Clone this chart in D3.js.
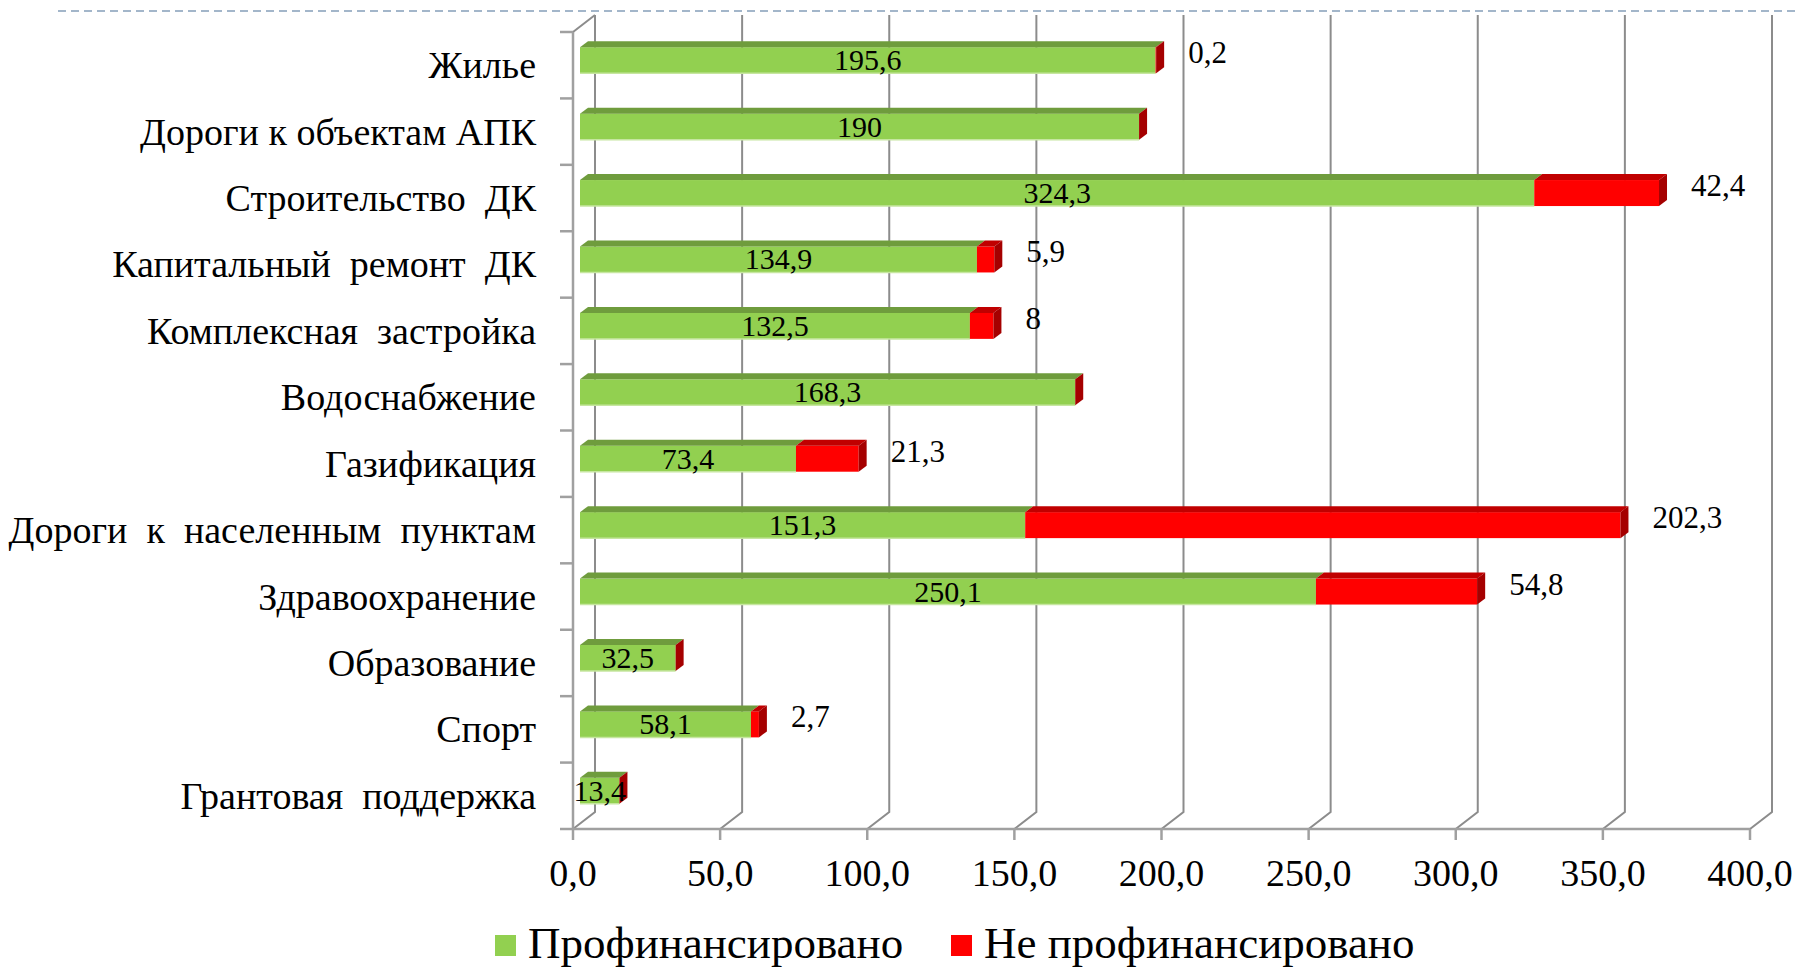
<!DOCTYPE html>
<html lang="ru">
<head>
<meta charset="UTF-8">
<title>Chart</title>
<style>
body { margin: 0; background: #fff; }
#chart { width: 1797px; height: 970px; }
text { font-family: 'Liberation Serif', 'DejaVu Serif', serif; fill: #000; }
</style>
</head>
<body>
<div id="chart"></div>
<script src="https://cdnjs.cloudflare.com/ajax/libs/d3/7.8.5/d3.min.js"></script>
<script>

var categories = [
  "Жилье",
  "Дороги к объектам АПК",
  "Строительство  ДК",
  "Капитальный  ремонт  ДК",
  "Комплексная  застройка",
  "Водоснабжение",
  "Газификация",
  "Дороги  к  населенным  пунктам",
  "Здравоохранение",
  "Образование",
  "Спорт",
  "Грантовая  поддержка"
];
var funded =   [195.6, 190, 324.3, 134.9, 132.5, 168.3, 73.4, 151.3, 250.1, 32.5, 58.1, 13.4];
var unfunded = [0.2,   0,   42.4,  5.9,   8,     0,     21.3, 202.3, 54.8,  0,    2.7,  0];
var ticks = [0, 50, 100, 150, 200, 250, 300, 350, 400];
var seriesNames = ["Профинансировано", "Не профинансировано"];

var width = 1797, height = 970;
var depthX = 22, depthY = -17;     // wall depth
var barOffX = 7, barOffY = -5;     // bars sit a bit behind the front plane
var barDX = 8, barDY = -6;         // bar thickness
var barH = 26;

var fmt = function (v) { return String(v).replace('.', ','); };
var fmtTick = function (v) { return v.toFixed(1).replace('.', ','); };

var svg = d3.select('#chart').append('svg')
  .attr('width', width)
  .attr('height', height);

var x = d3.scaleLinear().domain([0, 400]).range([573, 1750]);
var y = d3.scaleBand().domain(categories).range([32, 829]);

// dashed line across the top
svg.append('line')
  .attr('x1', 58).attr('x2', width)
  .attr('y1', 11).attr('y2', 11)
  .attr('stroke', '#a3b6ca').attr('stroke-width', 2)
  .attr('stroke-dasharray', '8,5');

var grid = svg.append('g')
  .attr('stroke', '#8c8c8c').attr('stroke-width', 2).attr('fill', 'none');

// back wall gridlines with floor diagonals
grid.selectAll('path.grid')
  .data(ticks)
  .enter().append('path')
  .attr('class', 'grid')
  .attr('d', function (d) {
    var fx = x(d), bottom = y.range()[1];
    return 'M' + (fx + depthX) + ',' + (y.range()[0] + depthY) +
      'V' + (bottom + depthY) + 'L' + fx + ',' + bottom;
  });

// left wall edge
grid.append('path')
  .attr('d', 'M' + x(0) + ',' + y.range()[0] + 'L' + (x(0) + depthX) + ',' + (y.range()[0] + depthY));

var axisCol = '#a0a0a0';
// front vertical axis + category ticks
svg.append('line')
  .attr('x1', x(0)).attr('x2', x(0))
  .attr('y1', y.range()[0]).attr('y2', y.range()[1])
  .attr('stroke', axisCol).attr('stroke-width', 2.5);

var catTicks = categories.map(function (c) { return y(c); }).concat([y.range()[1]]);
svg.selectAll('line.ctick')
  .data(catTicks)
  .enter().append('line')
  .attr('class', 'ctick')
  .attr('x1', x(0) - 13).attr('x2', x(0))
  .attr('y1', function (d) { return d; }).attr('y2', function (d) { return d; })
  .attr('stroke', axisCol).attr('stroke-width', 2.5);

// floor front line + value ticks
svg.append('line')
  .attr('x1', x(0)).attr('x2', x(400))
  .attr('y1', y.range()[1]).attr('y2', y.range()[1])
  .attr('stroke', axisCol).attr('stroke-width', 2.5);

svg.selectAll('line.vtick')
  .data(ticks)
  .enter().append('line')
  .attr('class', 'vtick')
  .attr('x1', function (d) { return x(d); }).attr('x2', function (d) { return x(d); })
  .attr('y1', y.range()[1]).attr('y2', y.range()[1] + 11)
  .attr('stroke', axisCol).attr('stroke-width', 2.5);

svg.selectAll('text.vlabel')
  .data(ticks)
  .enter().append('text')
  .attr('class', 'vlabel')
  .attr('x', function (d) { return x(d); })
  .attr('y', 886)
  .attr('text-anchor', 'middle')
  .style('font-size', '38px')
  .text(fmtTick);

// category labels
svg.selectAll('text.clabel')
  .data(categories)
  .enter().append('text')
  .attr('class', 'clabel')
  .attr('x', 536)
  .attr('y', function (d) { return y(d) + y.bandwidth() / 2 + 13; })
  .attr('text-anchor', 'end')
  .style('font-size', '38px')
  .style('white-space', 'pre')
  .text(function (d) { return d; });

// bars
var rows = categories.map(function (c, i) {
  return { cat: c, g: funded[i], r: unfunded[i] };
});

function face(x0, x1, yTop) {
  return 'M' + x0 + ',' + yTop + 'L' + (x0 + barDX) + ',' + (yTop + barDY) +
    'L' + (x1 + barDX) + ',' + (yTop + barDY) + 'L' + x1 + ',' + yTop + 'Z';
}

var bar = svg.selectAll('g.bar')
  .data(rows)
  .enter().append('g')
  .attr('class', 'bar');

bar.each(function (d) {
  var g = d3.select(this);
  var cy = y(d.cat) + y.bandwidth() / 2 + barOffY;
  var top = cy - barH / 2;
  var x0 = x(0) + barOffX, xg = x(d.g) + barOffX, xe = x(d.g + d.r) + barOffX;

  g.append('rect')
    .attr('x', x0).attr('y', top).attr('width', xg - x0).attr('height', barH)
    .attr('fill', '#92d050');
  g.append('line')
    .attr('x1', x0).attr('x2', xg).attr('y1', top + barH).attr('y2', top + barH)
    .attr('stroke', '#c6e6a0').attr('stroke-width', 1.5);
  g.append('path').attr('d', face(x0, xg, top)).attr('fill', '#6f9c3d');

  if (d.r > 0) {
    g.append('rect')
      .attr('x', xg).attr('y', top).attr('width', xe - xg).attr('height', barH)
      .attr('fill', '#ff0000');
    g.append('path').attr('d', face(xg, xe, top)).attr('fill', '#c00000');
  }
  // end side face
  g.append('path')
    .attr('d', 'M' + xe + ',' + top + 'L' + (xe + barDX) + ',' + (top + barDY) +
      'V' + (top + barH + barDY) + 'L' + xe + ',' + (top + barH) + 'Z')
    .attr('fill', '#a50000');

  g.append('text')
    .attr('x', (x0 + xg) / 2)
    .attr('y', cy + 10)
    .attr('text-anchor', 'middle')
    .style('font-size', '30px')
    .text(fmt(d.g));

  if (d.r > 0) {
    g.append('text')
      .attr('x', xe + barDX + 24)
      .attr('y', cy + 3)
      .style('font-size', '31px')
      .text(fmt(d.r));
  }
});

// legend
var legend = svg.append('g').attr('class', 'legend');
var legendItems = [
  { name: seriesNames[0], color: '#92d050', x: 495 },
  { name: seriesNames[1], color: '#ff0000', x: 951 }
];
legendItems.forEach(function (it) {
  legend.append('rect')
    .attr('x', it.x).attr('y', 935).attr('width', 21).attr('height', 21)
    .attr('fill', it.color);
  legend.append('text')
    .attr('x', it.x + 33).attr('y', 958)
    .style('font-size', '45px')
    .text(it.name);
});

</script>
</body>
</html>
